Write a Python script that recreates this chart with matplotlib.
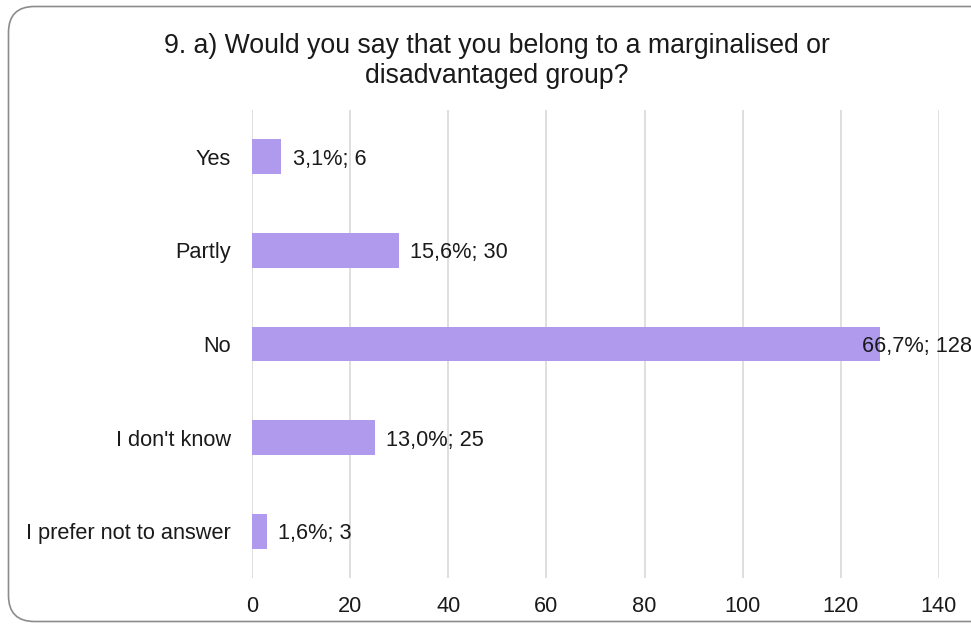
import matplotlib.pyplot as plt
from matplotlib.patches import FancyBboxPatch

# dados da pergunta 9 a)
categorias = ["Yes", "Partly", "No", "I don't know", "I prefer not to answer"]
respostas = [6, 30, 128, 25, 3]
percentuais = ["3,1%", "15,6%", "66,7%", "13,0%", "1,6%"]
titulo = "9. a) Would you say that you belong to a marginalised or\ndisadvantaged group?"

plt.rcParams['font.family'] = ['Liberation Sans', 'DejaVu Sans']

fig = plt.figure(figsize=(9.71, 6.24), dpi=100)

# moldura arredondada do gráfico (em polegadas, atrás dos eixos)
moldura = FancyBboxPatch((0.085, 0.025), 11.0, 6.15,
                         boxstyle="round,pad=0,rounding_size=0.26",
                         transform=fig.dpi_scale_trans, facecolor="white",
                         edgecolor="#8c8c8c", linewidth=1.2, zorder=-1)
fig.patches.append(moldura)

ax = fig.add_axes([0.2595, 0.0737, 0.7075, 0.75])
ax.set_facecolor("none")

pos = list(range(len(categorias)))
ax.barh(pos, respostas, height=0.37, color="#AF9AEE", zorder=2)
ax.set_ylim(len(categorias) - 0.5, -0.5)
ax.set_xlim(0, 140)
ax.set_xticks(range(0, 141, 20))
ax.set_yticks(pos)
ax.set_yticklabels(categorias)
ax.grid(axis="x", color="#d9d9d9", linewidth=1.2, zorder=0)
ax.tick_params(axis="both", length=0, labelsize=15.7, colors="#1a1a1a")
ax.tick_params(axis="y", pad=15)
ax.tick_params(axis="x", pad=13)
for s in ax.spines.values():
    s.set_visible(False)

# rótulos "percentual; contagem"
for i, (v, p) in enumerate(zip(respostas, percentuais)):
    dx = 8 if v < 100 else -13
    ax.annotate(f"{p}; {v}", (v, i), xytext=(dx, 0), textcoords="offset points",
                va="center_baseline", ha="left", fontsize=15.7, color="#1a1a1a",
                annotation_clip=False, zorder=3)

fig.text(0.512, 0.903, titulo, ha="center", va="center", fontsize=19.2,
         color="#1a1a1a", linespacing=1.2)

fig.savefig("out.png", dpi=100)
